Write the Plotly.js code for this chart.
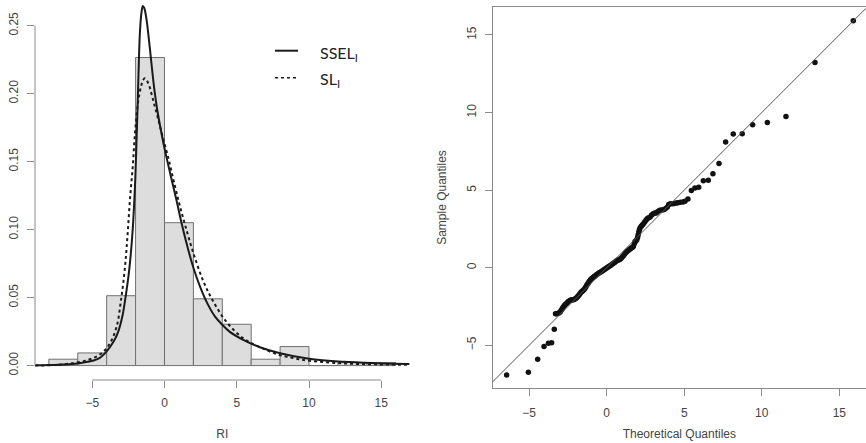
<!DOCTYPE html>
<html><head><meta charset="utf-8">
<script src="https://cdn.plot.ly/plotly-3.0.1.min.js"></script>
<style>html,body{margin:0;padding:0;background:#fff}#chart{width:866px;height:443px}</style>
</head><body><div id="chart"></div><script>
// ---------- Histogram (left) ----------
const binLeft = [-8, -6, -4, -2, 0, 2, 4, 6, 8, 10, 12, 14];
const binWidth = 2;
const binDensity = [0.0047, 0.0093, 0.0514, 0.2266, 0.1051, 0.0491, 0.0304, 0.0047, 0.0140, 0, 0.0023, 0.0023];

// SSEL_I density curve (solid)
const ssel_x = [-8.96, -8, -7, -6, -5, -4.5, -4, -3.5, -3.2, -2.9, -2.7, -2.5, -2.35, -2.2, -2.05, -1.95, -1.85, -1.77, -1.7, -1.6, -1.5, -1.4, -1.25, -1.12, -0.9, -0.7, -0.5, -0.3, -0.1, 0.1, 0.4, 0.8, 1.2, 1.6, 2.0, 2.5, 3.0, 3.5, 4.0, 4.5, 5.45, 6.6, 8.0, 10.0, 12.4, 14.7, 16.96];
const ssel_y = [0.0002, 0.0004, 0.0008, 0.0016, 0.0035, 0.0055, 0.0105, 0.018, 0.025, 0.037, 0.050, 0.065, 0.080, 0.100, 0.130, 0.160, 0.195, 0.225, 0.245, 0.259, 0.2645, 0.263, 0.255, 0.244, 0.222, 0.203, 0.188, 0.176, 0.165, 0.155, 0.141, 0.123, 0.104, 0.087, 0.072, 0.057, 0.045, 0.036, 0.030, 0.025, 0.0189, 0.0135, 0.0091, 0.0050, 0.0028, 0.0018, 0.0012];

// SL_I density curve (dotted)
const sl_x = [-8.96, -7.8, -6.66, -5.27, -4.35, -3.77, -3.31, -3.01, -2.73, -2.55, -2.39, -2.2, -2.04, -1.81, -1.63, -1.48, -1.35, -1.12, -0.78, -0.43, -0.1, 0.26, 0.61, 1.0, 1.41, 1.99, 2.69, 3.33, 4.3, 5.45, 6.61, 7.76, 8.91, 10.07, 12.37, 14.68, 16.96];
const sl_y = [0.0001, 0.0003, 0.0013, 0.0042, 0.0091, 0.0165, 0.0287, 0.048, 0.073, 0.097, 0.122, 0.146, 0.171, 0.195, 0.205, 0.210, 0.2113, 0.2076, 0.195, 0.181, 0.167, 0.153, 0.137, 0.120, 0.104, 0.083, 0.062, 0.048, 0.032, 0.020, 0.0135, 0.0085, 0.0055, 0.0035, 0.0016, 0.0009, 0.0006];

const histXTicks = [-5, 0, 5, 10, 15];
const histYTicks = [0, 0.05, 0.10, 0.15, 0.20, 0.25];
const histYLabels = ["0.00", "0.05", "0.10", "0.15", "0.20", "0.25"];

// ---------- QQ plot (right) ----------
const theoretical = [-6.45, -5.05, -4.45, -4.04, -3.76, -3.55, -3.38,
 -3.30, -3.23, -3.16, -3.08, -3.00, -2.94, -2.88, -2.82, -2.76, -2.70, -2.63, -2.56, -2.49, -2.42, -2.35, -2.28, -2.21, -2.14, -2.07, -2.00,
 -1.94, -1.88, -1.82, -1.76, -1.70, -1.64, -1.58, -1.52, -1.46, -1.40, -1.34, -1.28, -1.22, -1.16, -1.10, -1.04, -0.98, -0.92, -0.86, -0.80,
 -0.73, -0.66, -0.59, -0.52, -0.45, -0.38, -0.31, -0.24, -0.17, -0.10, -0.03, 0.04, 0.11, 0.18, 0.25, 0.32, 0.39, 0.46, 0.53, 0.60,
 0.67, 0.74, 0.81, 0.88, 0.95, 1.02, 1.09, 1.16, 1.23, 1.30, 1.37, 1.44, 1.51, 1.58, 1.65, 1.72, 1.78, 1.82, 1.88, 1.94, 1.99, 2.03,
 2.07, 2.11, 2.16, 2.23, 2.30, 2.37, 2.45, 2.53, 2.61, 2.70, 2.80, 2.90, 3.00, 3.10, 3.20, 3.30, 3.42, 3.54, 3.66, 3.78, 3.90, 4.00,
 4.12, 4.24, 4.36, 4.48, 4.60, 4.75, 4.92, 5.05,
 5.24, 5.46, 5.69, 5.93, 6.23, 6.55, 6.85, 7.24, 7.67, 8.16, 8.74, 9.41, 10.36, 11.56, 13.43, 15.90];
const sample = [-6.91, -6.74, -5.90, -5.07, -4.87, -4.83, -3.97,
 -2.97, -2.96, -2.95, -2.92, -2.86, -2.76, -2.66, -2.56, -2.48, -2.40, -2.33, -2.27, -2.20, -2.14, -2.10, -2.08, -2.07, -2.06, -2.03, -1.98,
 -1.93, -1.87, -1.80, -1.72, -1.64, -1.57, -1.51, -1.46, -1.40, -1.32, -1.22, -1.12, -1.03, -0.94, -0.85, -0.78, -0.71, -0.66, -0.61, -0.56,
 -0.51, -0.46, -0.41, -0.36, -0.31, -0.27, -0.22, -0.18, -0.13, -0.08, -0.03, 0.02, 0.07, 0.11, 0.15, 0.20, 0.25, 0.30, 0.36, 0.42,
 0.46, 0.49, 0.52, 0.57, 0.63, 0.71, 0.79, 0.88, 0.97, 1.04, 1.10, 1.15, 1.21, 1.27, 1.31, 1.36, 1.55, 1.67, 1.72, 1.80, 1.95, 2.12,
 2.30, 2.45, 2.58, 2.67, 2.75, 2.84, 2.95, 3.06, 3.16, 3.22, 3.27, 3.40, 3.48, 3.52, 3.53, 3.62, 3.70, 3.72, 3.74, 3.80, 3.90, 4.08,
 4.12, 4.13, 4.14, 4.17, 4.19, 4.22, 4.24, 4.28,
 4.43, 4.98, 5.14, 5.18, 5.61, 5.63, 6.06, 6.72, 8.10, 8.62, 8.64, 9.22, 9.35, 9.75, 13.23, 15.92];
const qqSlope = 1.0, qqIntercept = 0.0;
const qqTicks = [-5, 0, 5, 10, 15];

// ---------- styling ----------
const axisGray = '#8a8a8a';
const textGray = '#444444';
const tickFont = {family: 'Liberation Sans, Arial, sans-serif', size: 12, color: textGray};

const histXRange = [-8.96, 16.96];
const histYRange = [-0.0106, 0.2689];
const qqXRange = [-7.35, 16.72];
const qqYRange = [-7.77, 16.82];

const traces = [
  {type: 'bar', x: binLeft.map(v => v + binWidth / 2), y: binDensity, width: binWidth,
   marker: {color: '#dcdddc', line: {color: '#707070', width: 1}}, xaxis: 'x', yaxis: 'y', hoverinfo: 'skip'},
  {type: 'scatter', mode: 'lines', x: ssel_x, y: ssel_y, line: {color: '#1a1a1a', width: 2, shape: 'spline', smoothing: 1},
   xaxis: 'x', yaxis: 'y'},
  {type: 'scatter', mode: 'lines', x: sl_x, y: sl_y, line: {color: '#1a1a1a', width: 2, dash: 'dot', shape: 'spline', smoothing: 1},
   xaxis: 'x', yaxis: 'y'},
  {type: 'scatter', mode: 'markers', x: theoretical, y: sample, marker: {color: '#111111', size: 5.5},
   xaxis: 'x2', yaxis: 'y2'}
];

const shapes = [
  {type: 'line', xref: 'x', yref: 'y domain', x0: histXTicks[0], x1: histXTicks[histXTicks.length - 1], y0: 0, y1: 0,
   line: {color: axisGray, width: 1}},
  {type: 'line', xref: 'x domain', yref: 'y', x0: 0, x1: 0, y0: histYTicks[0], y1: histYTicks[histYTicks.length - 1],
   line: {color: axisGray, width: 1}},
  {type: 'line', xref: 'x2', yref: 'y2', x0: qqXRange[0], x1: qqXRange[1],
   y0: qqIntercept + qqSlope * qqXRange[0], y1: qqIntercept + qqSlope * qqXRange[1],
   line: {color: '#555555', width: 1}},
  {type: 'line', xref: 'paper', yref: 'paper', x0: 275 / 866, x1: 298 / 866, y0: 1 - 50.7 / 443, y1: 1 - 50.7 / 443,
   line: {color: '#1a1a1a', width: 2}},
  {type: 'line', xref: 'paper', yref: 'paper', x0: 275 / 866, x1: 298 / 866, y0: 1 - 77.7 / 443, y1: 1 - 77.7 / 443,
   line: {color: '#1a1a1a', width: 1.5, dash: 'dot'}}
];

const legendFont = {family: 'Lato, Open Sans, sans-serif', size: 16, color: '#222222'};
const annotations = [
  {xref: 'paper', yref: 'paper', x: 318 / 866, y: 1 - 54 / 443, xanchor: 'left', yanchor: 'middle',
   text: 'SSEL<sub>I</sub>', showarrow: false, font: legendFont},
  {xref: 'paper', yref: 'paper', x: 318 / 866, y: 1 - 79 / 443, xanchor: 'left', yanchor: 'middle',
   text: 'SL<sub>I</sub>', showarrow: false, font: legendFont}
];

const layout = {
  width: 866, height: 443,
  margin: {l: 0, r: 0, t: 0, b: 0},
  paper_bgcolor: '#ffffff', plot_bgcolor: '#ffffff',
  showlegend: false, bargap: 0,
  xaxis: {domain: [35 / 866, 409.6 / 866], range: histXRange, anchor: 'y',
    tickvals: histXTicks, ticks: 'outside', ticklen: 7, tickcolor: axisGray, tickwidth: 1,
    showline: false, showgrid: false, zeroline: false, tickfont: tickFont, ticklabelstandoff: 5,
    title: {text: 'RI', font: tickFont, standoff: 20}},
  yaxis: {domain: [63 / 443, 1], range: histYRange, anchor: 'x',
    tickvals: histYTicks, ticktext: histYLabels, tickangle: -90, ticks: 'outside', ticklen: 7, tickcolor: axisGray, tickwidth: 1,
    showline: false, showgrid: false, zeroline: false, tickfont: tickFont, ticklabelstandoff: 4},
  xaxis2: {domain: [492.7 / 866, 1], range: qqXRange, anchor: 'y2',
    tickvals: qqTicks, ticks: 'outside', ticklen: 7, tickcolor: axisGray, tickwidth: 1,
    showline: true, linecolor: axisGray, linewidth: 1, mirror: true,
    showgrid: false, zeroline: false, tickfont: tickFont, ticklabelstandoff: 6,
    title: {text: 'Theoretical Quantiles', font: tickFont, standoff: 10}},
  yaxis2: {domain: [(443 - 388.3) / 443, (443 - 6.7) / 443], range: qqYRange, anchor: 'x2',
    tickvals: qqTicks, tickangle: -90, ticks: 'outside', ticklen: 7, tickcolor: axisGray, tickwidth: 1,
    showline: true, linecolor: axisGray, linewidth: 1, mirror: false,
    showgrid: false, zeroline: false, tickfont: tickFont, ticklabelstandoff: 4,
    title: {text: 'Sample Quantiles', font: tickFont, standoff: 15}},
  shapes: shapes,
  annotations: annotations
};

Plotly.newPlot('chart', traces, layout, {staticPlot: true, displayModeBar: false});
</script></body></html>
